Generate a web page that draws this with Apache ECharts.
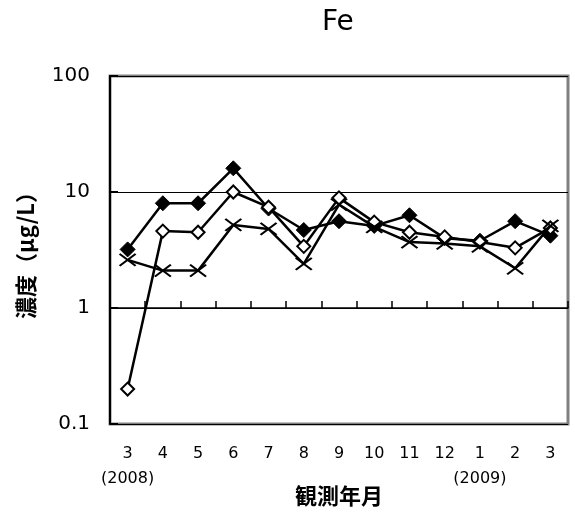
<!DOCTYPE html>
<html>
<head>
<meta charset="utf-8">
<script src="https://cdn.jsdelivr.net/npm/echarts@6/dist/echarts.min.js"></script>
<style>
  html, body { margin: 0; padding: 0; background: #fff; }
  #chart { width: 575px; height: 513px; }
</style>
</head>
<body>
<div id="chart"></div>
<script>
// Observation months, March 2008 to March 2009
const months = ['3', '4', '5', '6', '7', '8', '9', '10', '11', '12', '1', '2', '3'];
const yearNotes = ['(2008)', '', '', '', '', '', '', '', '', '', '(2009)', '', ''];

// Fe concentration (µg/L) for three sampling points
const seriesFilled = [3.2, 8.0, 8.0, 16, 7.2, 4.7, 5.6, 5.1, 6.3, 4.0, 3.8, 5.6, 4.2];
const seriesOpen   = [0.2, 4.6, 4.5, 10, 7.4, 3.4, 8.9, 5.5, 4.5, 4.1, 3.7, 3.3, 4.9];
const seriesCross  = [2.6, 2.1, 2.1, 5.2, 4.8, 2.4, 7.8, 5.0, 3.7, 3.6, 3.4, 2.2, 5.1];

const yTickLabels = { 0.1: '0.1', 1: '1', 10: '10', 100: '100' };

const latin = 'DejaVu Sans';
const cjk = '"Noto Sans CJK JP"';

const L = 110, R = 7, T = 76, B = 89;   // plot rectangle margins
const plotH = 513 - T - B;
const oneLineTop = T + plotH * 2 / 3;    // pixel row of the value 1 on the log scale

const crossPath = 'path://M0,0L16,12M16,0L0,12';

const chart = echarts.init(document.getElementById('chart'), null, { renderer: 'canvas' });

chart.setOption({
  animation: false,
  backgroundColor: '#fff',
  title: {
    text: 'Fe',
    left: 317,
    top: 4,
    textStyle: { fontFamily: latin, fontSize: 28, fontWeight: 'normal', color: '#000' }
  },
  grid: [
    { left: L, right: R, top: T, bottom: B, outerBoundsMode: 'none', containLabel: false,
      show: true, borderColor: '#808080', borderWidth: 3, backgroundColor: 'transparent' },
    { left: L, right: R, top: oneLineTop, bottom: B, outerBoundsMode: 'none', containLabel: false, show: false }
  ],
  xAxis: [
    {
      type: 'category',
      gridIndex: 0,
      data: months,
      boundaryGap: true,
      axisLine: { show: false },
      axisTick: { show: false },
      splitLine: { show: false },
      name: '観測年月',
      nameLocation: 'middle',
      nameGap: 61,
      nameMoveOverlap: false,
      nameTextStyle: { fontFamily: cjk, fontSize: 22, fontWeight: 'bold', color: '#000' },
      axisLabel: {
        margin: 17,
        interval: 0,
        color: '#000',
        fontFamily: latin,
        fontSize: 16,
        lineHeight: 25,
        formatter: (v, i) => yearNotes[i] ? v + '\n' + yearNotes[i] : v
      }
    },
    {
      // axis drawn along the value 1, ticks pointing up
      type: 'category',
      gridIndex: 1,
      data: months,
      position: 'top',
      boundaryGap: true,
      axisLine: { show: true, onZero: false, lineStyle: { color: '#000', width: 1.5 } },
      axisTick: { show: true, inside: false, length: 7, lineStyle: { color: '#000', width: 1.5 } },
      axisLabel: { show: false },
      splitLine: { show: false }
    }
  ],
  yAxis: [
    {
      type: 'log',
      gridIndex: 0,
      logBase: 10,
      min: 0.1,
      max: 100,
      name: '濃度（μg/L）',
      nameLocation: 'middle',
      nameRotate: 90,
      nameGap: 73,
      nameMoveOverlap: false,
      nameTextStyle: { fontFamily: cjk, fontSize: 22, fontWeight: 'bold', color: '#000' },
      axisLine: { show: true, lineStyle: { color: '#000', width: 2 } },
      axisTick: { show: true, inside: true, length: 8, lineStyle: { color: '#000', width: 2 } },
      splitLine: { show: true, lineStyle: { color: '#000', width: 1 } },
      axisLabel: {
        margin: 20,
        color: '#000',
        fontFamily: latin,
        fontSize: 20,
        verticalAlignMinLabel: 'middle',
        verticalAlignMaxLabel: 'middle',
        formatter: v => yTickLabels[+(+v).toPrecision(3)] || String(v)
      }
    },
    {
      type: 'value',
      gridIndex: 1,
      show: false
    }
  ],
  series: [
    {
      type: 'line',
      data: seriesFilled,
      xAxisIndex: 0, yAxisIndex: 0,
      symbol: 'diamond',
      symbolSize: 15,
      showAllSymbol: true,
      lineStyle: { color: '#000', width: 2.5 },
      itemStyle: { color: '#000', borderColor: '#000', borderWidth: 1 },
      z: 2
    },
    {
      type: 'line',
      data: seriesOpen,
      xAxisIndex: 0, yAxisIndex: 0,
      symbol: 'diamond',
      symbolSize: 13,
      showAllSymbol: true,
      lineStyle: { color: '#000', width: 2.5 },
      itemStyle: { color: '#fff', borderColor: '#000', borderWidth: 2 },
      z: 3
    },
    {
      type: 'line',
      data: seriesCross,
      xAxisIndex: 0, yAxisIndex: 0,
      symbol: crossPath,
      symbolSize: [16, 12],
      symbolKeepAspect: false,
      showAllSymbol: true,
      lineStyle: { color: '#000', width: 2.5 },
      itemStyle: { color: 'none', borderColor: '#000', borderWidth: 2 },
      z: 4
    }
  ]
});
</script>
</body>
</html>
